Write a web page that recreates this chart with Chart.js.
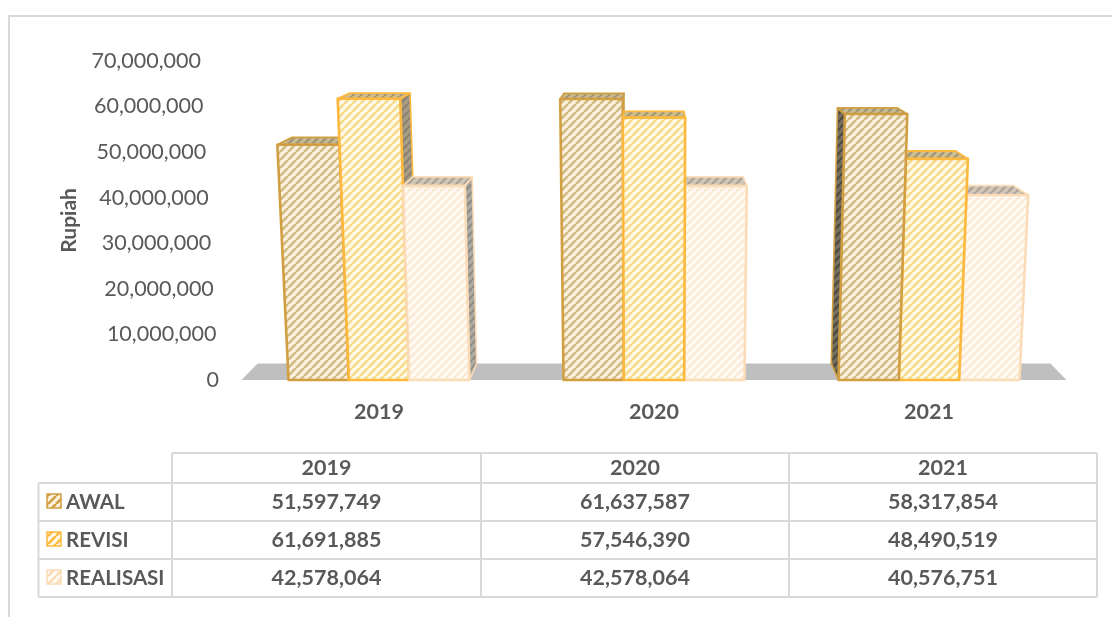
<!DOCTYPE html>
<html>
<head>
<meta charset="utf-8">
<title>Anggaran</title>
<script src="https://cdn.jsdelivr.net/npm/chart.js@4"></script>
<style>
html,body{margin:0;padding:0;background:#fff}
#wrap{position:relative;width:1112px;height:617px}
</style>
</head>
<body>
<div id="wrap"><canvas id="c" width="1112" height="617"></canvas></div>
<script>
// Budget per year, in rupiah
const years = ['2019', '2020', '2021'];
const seriesNames = ['AWAL', 'REVISI', 'REALISASI'];
const awal = [51597749, 61637587, 58317854];
const revisi = [61691885, 57546390, 48490519];
const realisasi = [42578064, 42578064, 40576751];
const axisTitle = 'Rupiah';
const axisMax = 70000000;
const axisStep = 10000000;

const TEXT = '#595959';
const RULE = '#d9d9d9';

// Colours per series: outline, front stripes/ground, top stripes/ground, side stripes/ground
const looks = [
  {line:'#d19f42', front:['#d2ba84','#fcf0de'], top:['#a0967a','#c9ba90'], side:['#4f4c44','#77705f']},
  {line:'#fdb83e', front:['#f7d98a','#fffae8'], top:['#a39a7e','#cfbf8e'], side:['#8b8474','#a89e86']},
  {line:'#fbdcb8', front:['#fbeAd5','#fffaf3'], top:['#ada59a','#d2c8b8'], side:['#908e88','#b0aca2']}
];

// One-point perspective used for the extruded bars
const VP = {x: 654, y: -43};
const DEPTH = 0.039;
const LEAN = 1.3e-4;

function stripes(ctx, fg, bg) {
  const n = 8, off = document.createElement('canvas');
  off.width = off.height = n;
  const p = off.getContext('2d');
  p.fillStyle = bg; p.fillRect(0, 0, n, n);
  p.strokeStyle = fg; p.lineWidth = 2.6;
  for (let i = -n; i <= 2 * n; i += n) {
    p.beginPath(); p.moveTo(i, n); p.lineTo(i + n, 0); p.stroke();
  }
  return ctx.createPattern(off, 'repeat');
}

function poly(ctx, pts, fill, line, lw) {
  ctx.beginPath();
  pts.forEach((q, i) => i ? ctx.lineTo(q[0], q[1]) : ctx.moveTo(q[0], q[1]));
  ctx.closePath();
  if (fill) { ctx.fillStyle = fill; ctx.fill(); }
  if (line) { ctx.strokeStyle = line; ctx.lineWidth = lw; ctx.lineJoin = 'round'; ctx.stroke(); }
}

const toBack = q => [q[0] + DEPTH * (VP.x - q[0]), q[1] + DEPTH * (VP.y - q[1])];
const leaned = (x, h) => x + (x - VP.x) * h * LEAN;

function drawPrism(ctx, bar, look) {
  const l = bar.x - bar.width / 2, r = bar.x + bar.width / 2;
  const h = bar.base - bar.y;
  const fl = [l, bar.base], fr = [r, bar.base];
  const tl = [leaned(l, h), bar.y], tr = [leaned(r, h), bar.y];
  const line = look.line;
  if (r < VP.x) {
    poly(ctx, [fr, tr, toBack(tr), toBack(fr)], stripes(ctx, ...look.side), line, 1.6);
  }
  if (l > VP.x) {
    poly(ctx, [fl, tl, toBack(tl), toBack(fl)], stripes(ctx, ...look.side), line, 1.6);
  }
  poly(ctx, [tl, tr, toBack(tr), toBack(tl)], stripes(ctx, ...look.top), line, 1.8);
  poly(ctx, [fl, fr, tr, tl], stripes(ctx, ...look.front), line, 2.6);
}

const floorPlugin = {
  id: 'floor',
  beforeDatasetsDraw(chart) {
    const {ctx, chartArea: a} = chart;
    const base = chart.scales.y.getPixelForValue(0);
    const bl = [a.left, base], br = [a.right, base];
    poly(ctx, [bl, br, toBack(br), toBack(bl)], '#bfbfbf');
  }
};

const prismPlugin = {
  id: 'prisms',
  afterDatasetsDraw(chart) {
    const ctx = chart.ctx, list = [];
    chart.data.datasets.forEach((d, di) => {
      chart.getDatasetMeta(di).data.forEach(bar => list.push({bar, look: looks[di]}));
    });
    // bars further from the vanishing point go first so nearer ones cover their sides
    list.sort((a, b) => Math.abs(b.bar.x - VP.x) - Math.abs(a.bar.x - VP.x));
    ctx.save();
    list.forEach(o => drawPrism(ctx, o.bar, o.look));
    ctx.restore();
  }
};

// The value labels follow the same lean as the bar edges
const leanLabelsPlugin = {
  id: 'leanLabels',
  beforeDraw(chart) {
    const y = chart.scales.y;
    const base = y.getPixelForValue(0);
    y.getLabelItems().forEach(item => {
      const t = item.options.translation;
      if (item.leaned) return;
      item.leaned = true;
      t[0] = leaned(t[0], base - t[1]);
    });
  }
};

const tableGeom = {
  cols: [38.5, 172, 481, 789, 1097],
  rows: [453, 483, 521, 559, 597]
};

const tablePlugin = {
  id: 'dataTable',
  afterDraw(chart) {
    const ctx = chart.ctx, {cols, rows} = tableGeom;
    ctx.save();
    // outer frame of the chart object
    ctx.strokeStyle = RULE; ctx.lineWidth = 2;
    ctx.beginPath(); ctx.moveTo(9, 617); ctx.lineTo(9, 16); ctx.lineTo(1112, 16); ctx.stroke();

    ctx.beginPath();
    ctx.moveTo(cols[1], rows[0]); ctx.lineTo(cols[4], rows[0]);
    rows.slice(1).forEach(r => { ctx.moveTo(cols[0], r); ctx.lineTo(cols[4], r); });
    ctx.moveTo(cols[0], rows[1]); ctx.lineTo(cols[0], rows[4]);
    cols.slice(1).forEach(c => { ctx.moveTo(c, rows[0]); ctx.lineTo(c, rows[4]); });
    ctx.stroke();

    ctx.fillStyle = TEXT;
    ctx.textBaseline = 'middle';
    ctx.font = 'bold 21.5px Lato';
    ctx.textAlign = 'center';
    years.forEach((y, i) => ctx.fillText(y, (cols[i + 1] + cols[i + 2]) / 2, (rows[0] + rows[1]) / 2));

    [awal, revisi, realisasi].forEach((vals, s) => {
      const mid = (rows[s + 1] + rows[s + 2]) / 2;
      const look = looks[s];
      ctx.fillStyle = stripes(ctx, look.line, look.front[1]);
      ctx.strokeStyle = look.line; ctx.lineWidth = 1.5;
      ctx.fillRect(47, mid - 8, 14, 14);
      ctx.strokeRect(47, mid - 8, 14, 14);
      ctx.fillStyle = TEXT;
      ctx.textAlign = 'center';
      vals.forEach((v, i) => ctx.fillText(v.toLocaleString('en-US'), (cols[i + 1] + cols[i + 2]) / 2, mid));
      ctx.textAlign = 'left';
      ctx.font = 'bold 20.5px Lato';
      ctx.fillText(seriesNames[s], 66, mid);
      ctx.font = 'bold 21.5px Lato';
    });
    ctx.restore();
  }
};

const mkSet = (label, data) => ({label, data, backgroundColor: 'transparent', borderWidth: 0});

new Chart(document.getElementById('c'), {
  type: 'bar',
  data: {
    labels: years,
    datasets: [mkSet(seriesNames[0], awal), mkSet(seriesNames[1], revisi), mkSet(seriesNames[2], realisasi)]
  },
  plugins: [floorPlugin, prismPlugin, leanLabelsPlugin, tablePlugin],
  options: {
    responsive: false,
    animation: false,
    devicePixelRatio: 1,
    layout: {padding: {top: 60.8, right: 45.5, left: 0, bottom: 0}},
    datasets: {bar: {categoryPercentage: 0.658, barPercentage: 1}},
    plugins: {legend: {display: false}, tooltip: {enabled: false}},
    scales: {
      x: {
        grid: {display: false, drawTicks: false},
        border: {display: false},
        ticks: {color: TEXT, padding: 19, maxRotation: 0, font: {family: 'Lato', size: 21.5, weight: 'bold'}},
        afterFit(s) { s.height = 237; }
      },
      y: {
        min: 0, max: axisMax,
        grid: {display: false, drawTicks: false},
        border: {display: false},
        ticks: {
          stepSize: axisStep, color: TEXT, padding: 22.5,
          font: {family: 'Lato', size: 21.5},
          callback: v => v.toLocaleString('en-US')
        },
        title: {display: true, text: axisTitle, color: TEXT, padding: {top: 57, bottom: 0},
          font: {family: 'Lato', size: 21, weight: 'bold'}},
        afterFit(s) { s.width = 241.5; }
      }
    }
  }
});
</script>
</body>
</html>
